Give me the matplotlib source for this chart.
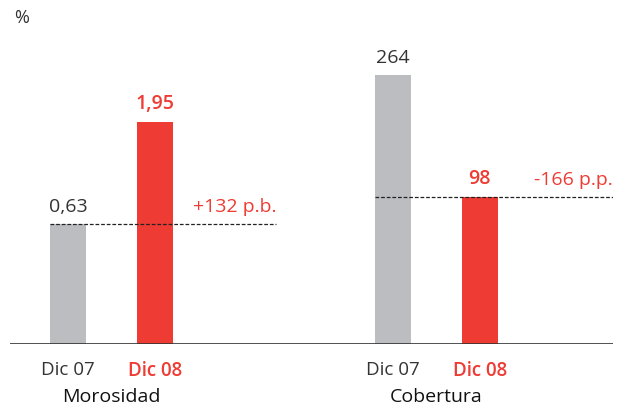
import matplotlib.pyplot as plt

# data
groups = ['Morosidad', 'Cobertura']
periods = ['Dic 07', 'Dic 08']
value_labels = [['0,63', '1,95'], ['264', '98']]
# bar heights are not drawn to scale in the original, so keep the drawn heights
bar_heights = [[120, 222], [269, 147]]
change_labels = ['+132 p.b.', '-166 p.p.']

grey = '#bcbdc0'
red = '#ee3b33'
dark = '#333333'

plt.rcParams['font.family'] = ['Open Sans', 'DejaVu Sans']

fig = plt.figure(figsize=(6.25, 4.09), dpi=100)
ax = fig.add_axes([10 / 625, 65 / 409, 603 / 625, 344 / 409])
ax.set_xlim(-0.313, 1.545)
ax.set_ylim(0, 344)
ax.axis('off')

offset = 0.134
width = 0.111
dash_ends = [0.507, 1.545]

for g in range(len(groups)):
    xs = [g - offset, g + offset]
    for p in range(2):
        col = grey if p == 0 else red
        ax.bar(xs[p], bar_heights[g][p], width=width, color=col, zorder=2)
        ax.text(xs[p], bar_heights[g][p] + 8, value_labels[g][p],
                ha='center', va='bottom', fontsize=14,
                color=dark if p == 0 else red,
                fontweight='normal' if p == 0 else 'semibold')
        ax.text(xs[p], -17, periods[p], ha='center', va='top', fontsize=13.5,
                color=dark if p == 0 else red,
                fontweight='normal' if p == 0 else 'semibold')
    ax.text(g, -44, groups[g], ha='center', va='top', fontsize=14, color='#111111')
    # dashed reference line at the lower bar
    y_ref = min(bar_heights[g])
    ax.plot([xs[0] - width / 2, dash_ends[g]], [y_ref, y_ref], color='#222222',
            lw=0.9, ls=(0, (3, 1.5)), zorder=3)
    ax.text(dash_ends[g], y_ref + 8, change_labels[g], ha='right', va='bottom',
            fontsize=14, color=red)

ax.axhline(0, color='#333333', lw=1.2, zorder=4)
fig.text(14 / 625, 1 - 18 / 409, '%', ha='left', va='center', fontsize=13, color=dark)

fig.savefig('out.png', dpi=100)
